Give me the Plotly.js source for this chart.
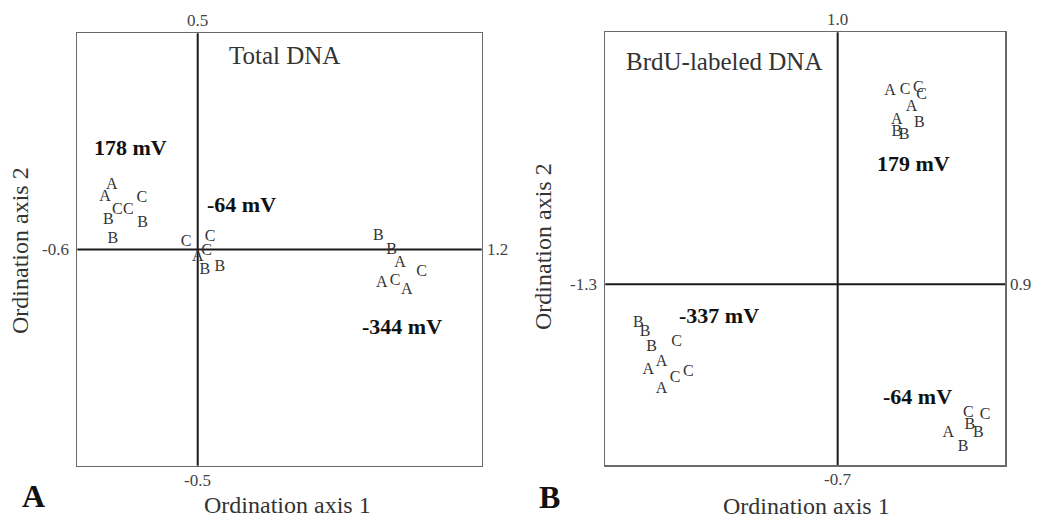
<!DOCTYPE html>
<html>
<head>
<meta charset="utf-8">
<script src="https://cdn.plot.ly/plotly-3.0.1.min.js"></script>
<style>html,body{margin:0;padding:0;background:#fff;}#chart{width:1042px;height:525px;}</style>
</head>
<body>
<div id="chart"></div>
<script>
// ---------- Panel A: Total DNA ----------
const labelsA = ["A","A","C","C","C","B","B","B",
                 "C","C","C","A","B","B",
                 "B","B","A","C","A","C","A"];
const axis1A  = [-0.383,-0.413,-0.358,-0.309,-0.249,-0.398,-0.245,-0.378,
                 -0.052,0.055,0.040,0.000,0.032,0.099,
                 0.804,0.863,0.900,0.997,0.819,0.878,0.930];
const axis2A  = [0.149,0.122,0.091,0.091,0.118,0.068,0.062,0.024,
                 0.018,0.028,-0.003,-0.017,-0.047,-0.040,
                 0.031,-0.001,-0.032,-0.051,-0.078,-0.074,-0.094];
const groupNamesA = ["178 mV","-64 mV","-344 mV"];
const groupX_A = [-0.299, 0.197, 0.909];
const groupY_A = [0.237, 0.105, -0.179];
const endLabelsA = {top:"0.5", bottom:"-0.5", left:"-0.6", right:"1.2"};
const titleA = "Total DNA";

// ---------- Panel B: BrdU-labeled DNA ----------
const labelsB = ["A","C","C","C","A","A","B","B","B",
                 "B","B","B","C","A","A","C","C","A",
                 "C","C","B","B","A","B"];
const axis1B  = [0.288,0.371,0.444,0.462,0.407,0.325,0.449,0.325,0.365,
                 -1.097,-1.060,-1.024,-0.886,-0.969,-1.042,-0.822,-0.895,-0.969,
                 0.719,0.811,0.728,0.774,0.609,0.691];
const axis2B  = [0.761,0.763,0.770,0.744,0.698,0.645,0.633,0.600,0.587,
                 -0.153,-0.186,-0.245,-0.226,-0.304,-0.337,-0.343,-0.369,-0.413,
                 -0.507,-0.514,-0.553,-0.585,-0.585,-0.638];
const groupNamesB = ["179 mV","-337 mV","-64 mV"];
const groupX_B = [0.416, -0.653, 0.439];
const groupY_B = [0.475, -0.121, -0.442];
const endLabelsB = {top:"1.0", bottom:"-0.7", left:"-1.3", right:"0.9"};
const titleB = "BrdU-labeled DNA";

const axisTitleX = "Ordination axis 1";
const axisTitleY = "Ordination axis 2";
const panelLetters = ["A","B"];

const FONT = "Liberation Serif, Times New Roman, serif";
const TXT = "#333";

const traces = [
  {type:"scatter", mode:"text", x:axis1A, y:axis2A, text:labelsA, xaxis:"x", yaxis:"y",
   textposition:"middle center", textfont:{family:FONT, size:16, color:TXT}, hoverinfo:"skip", showlegend:false},
  {type:"scatter", mode:"text", x:axis1B, y:axis2B, text:labelsB, xaxis:"x2", yaxis:"y2",
   textposition:"middle center", textfont:{family:FONT, size:16, color:TXT}, hoverinfo:"skip", showlegend:false}
];

function ax(domain, range, anchor){
  return {domain:domain, range:range, anchor:anchor, showgrid:false, zeroline:false,
          showticklabels:false, ticks:"", showline:true, mirror:true,
          linecolor:"#6a6a6a", linewidth:1.5, fixedrange:true};
}

const annotations = [];
function addPanel(xa, ya, names, gx, gy, ends, title, tx, ty){
  names.forEach((n,i)=>annotations.push({xref:xa, yref:ya, x:gx[i], y:gy[i], text:"<b>"+n+"</b>",
    showarrow:false, xanchor:"center", yanchor:"middle", font:{family:FONT, size:22, color:"#111"}}));
  annotations.push({xref:xa, yref:ya, x:tx, y:ty, text:title, showarrow:false, xanchor:"center", yanchor:"middle",
    font:{family:FONT, size:25, color:TXT}});
  const lf = {family:FONT, size:17, color:"#444"};
  annotations.push({xref:xa, yref:ya+" domain", x:0, y:1, text:ends.top, showarrow:false, xanchor:"center", yanchor:"bottom", yshift:1, font:lf});
  annotations.push({xref:xa, yref:ya+" domain", x:0, y:0, text:ends.bottom, showarrow:false, xanchor:"center", yanchor:"top", yshift:-3, font:lf});
  annotations.push({xref:xa+" domain", yref:ya, x:0, y:0, text:ends.left, showarrow:false, xanchor:"right", yanchor:"middle", xshift:-6, font:lf});
  annotations.push({xref:xa+" domain", yref:ya, x:1, y:0, text:ends.right, showarrow:false, xanchor:"left", yanchor:"middle", xshift:3, font:lf});
}
addPanel("x","y",groupNamesA,groupX_A,groupY_A,endLabelsA,titleA,0.388,0.448);
addPanel("x2","y2",groupNamesB,groupX_B,groupY_B,endLabelsB,titleB,-0.626,0.875);

// axis titles and panel letters (paper coords)
const tf = {family:FONT, size:24, color:TXT};
function paperText(px, py, text, font, angle){
  annotations.push({xref:"paper", yref:"paper", x:px/1042, y:1-py/525, text:text, showarrow:false,
    xanchor:"center", yanchor:"middle", textangle:angle||0, font:font});
}
paperText(287, 505, axisTitleX, tf);
paperText(806, 506, axisTitleX, tf);
paperText(20, 251, axisTitleY, tf, -90);
paperText(543, 247, axisTitleY, tf, -90);
paperText(33, 496, "<b>"+panelLetters[0]+"</b>", {family:FONT, size:32, color:"#111"});
paperText(549, 497, "<b>"+panelLetters[1]+"</b>", {family:FONT, size:32, color:"#111"});

const lineStyle = {color:"#1a1a1a", width:2};
const shapes = [
  {type:"line", xref:"x", yref:"y domain", x0:0, x1:0, y0:0, y1:1, line:lineStyle, layer:"below"},
  {type:"line", xref:"x domain", yref:"y", x0:0, x1:1, y0:0, y1:0, line:lineStyle, layer:"below"},
  {type:"line", xref:"x2", yref:"y2 domain", x0:0, x1:0, y0:0, y1:1, line:lineStyle, layer:"below"},
  {type:"line", xref:"x2 domain", yref:"y2", x0:0, x1:1, y0:0, y1:0, line:lineStyle, layer:"below"}
];

const layout = {
  width:1042, height:525,
  margin:{l:0, r:0, t:0, b:0},
  paper_bgcolor:"#fff", plot_bgcolor:"#fff",
  showlegend:false,
  xaxis: ax([77.3/1042, 481.7/1042], [-0.536, 1.264], "y"),
  yaxis: ax([1-465.7/525, 1-33.3/525], [-0.5, 0.5], "x"),
  xaxis2: ax([605.3/1042, 1005/1042], [-1.279, 0.921], "y2"),
  yaxis2: ax([1-465/525, 1-32.3/525], [-0.71, 0.99], "x2"),
  annotations: annotations,
  shapes: shapes
};

Plotly.newPlot("chart", traces, layout, {displayModeBar:false, staticPlot:true});
</script>
</body>
</html>
